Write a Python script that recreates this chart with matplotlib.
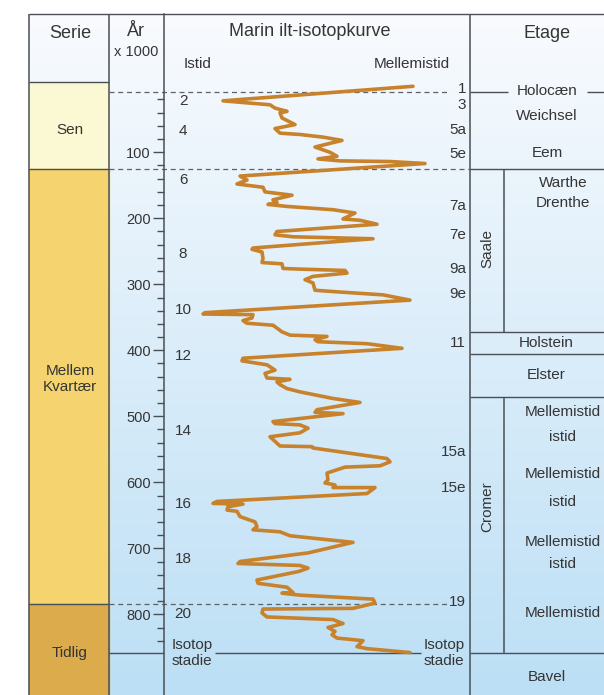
import numpy as np
import matplotlib
matplotlib.use('Agg')
import matplotlib.pyplot as plt
from matplotlib.patches import Rectangle
from matplotlib.colors import LinearSegmentedColormap

plt.rcParams['font.family'] = ['Liberation Sans', 'DejaVu Sans']

# ilt-isotopkurven: alder (x1000 år) og relativ isotopværdi (lav = istid, høj = mellemistid)
alder = [0, 22, 28, 33, 38, 40, 48, 58, 64, 71, 73, 77, 82, 92, 100, 106, 110, 113, 114, 117,
         136, 142, 148, 153, 160, 165, 172, 176, 179, 182, 187, 192, 201, 203, 209, 220, 225, 228, 231,
         245, 247, 251, 261, 267, 269, 276, 277, 279, 283, 288, 293, 298, 309, 311, 316, 324,
         343, 345, 346, 351, 355, 359, 362, 372, 377, 379, 384, 387, 390, 397,
         412, 416, 422, 430, 435, 442, 444, 448, 452, 458, 463, 473, 479, 490, 494, 496,
         508, 511, 513, 518, 525, 531, 545, 546, 548, 556, 564, 569, 575, 577, 586, 596, 601, 604, 608, 608, 617,
         629, 632, 633, 637, 642, 644, 652, 660, 667, 672, 675, 681, 691, 707,
         720, 723, 726, 730, 735, 748, 753, 759, 767, 768, 771, 777, 783, 791, 792, 798, 804, 808, 814,
         820, 826, 831, 836, 840, 849, 852, 858]
isotop = [249, 59, 106, 111, 123, 116, 118, 131, 111, 116, 136, 159, 178, 151, 166, 173, 154, 176, 226, 261,
          76, 83, 73, 99, 101, 128, 109, 113, 104, 123, 169, 191, 179, 196, 213, 113, 111, 129, 209,
          89, 88, 98, 99, 98, 118, 119, 136, 181, 183, 149, 141, 149, 151, 169, 219, 246,
          41, 39, 89, 88, 79, 83, 109, 118, 126, 163, 151, 154, 203, 238,
          79, 78, 103, 111, 101, 103, 126, 113, 116, 123, 136, 169, 196, 153, 151, 179,
          109, 111, 136, 144, 136, 106, 116, 148, 149, 186, 223, 226, 216, 181, 163, 164, 161, 171, 169, 211, 203,
          53, 49, 79, 64, 63, 73, 76, 91, 93, 89, 116, 126, 189, 144,
          76, 74, 136, 144, 135, 93, 94, 123, 129, 118, 136, 209, 211, 189, 99, 98, 103, 169, 179, 164,
          171, 168, 173, 199, 193, 203, 246]

# grænser i x1000 år
holocaen = 8
eem_start = 125
tidlig_start = 784
saale_slut = 372
holstein_slut = 405
elster_slut = 471
bavel_start = 858

serie_navne = ['Sen', 'Mellem\nKvartær', 'Tidlig']
serie_farver = ['#fbf9d4', '#f5d46f', '#dcab4b']

stadier_venstre = ['2', '4', '6', '8', '10', '12', '14', '16', '18', '20']
stadier_hoejre = ['1', '3', '5a', '5e', '7a', '7e', '9a', '9e', '11', '15a', '15e', '19']

W, H = 604, 695
Y0, K = 86.3, 0.66          # pixel for 0 år, pixel pr. 1000 år
TOP, LEFT = 14, 29
X_SERIE, X_AAR, X_KURVE, X_ETAGE, X_SUB = 109, 164, 470, 470, 504
LC = '#4a4f55'
TC = '#353535'


def yp(a):
    return Y0 + K * a


fig = plt.figure(figsize=(W / 100, H / 100), dpi=100)
bg = fig.add_axes([0, 0, 1, 1])
bg.axis('off')

cmap = LinearSegmentedColormap.from_list('bg', ['#f9fbfe', '#bcdff5'])
grad = np.linspace(0, 1, 256)[:, None]
bg.imshow(grad, extent=(LEFT, W, H, TOP), cmap=cmap, aspect='auto', zorder=0)

# serie-kolonnen
graenser = [82, yp(eem_start), yp(tidlig_start), H]
for i, navn in enumerate(serie_navne):
    y0, y1 = graenser[i], graenser[i + 1]
    bg.add_patch(Rectangle((LEFT, y0), X_SERIE - LEFT, y1 - y0, color=serie_farver[i], zorder=1))
bg.text(70, 130, 'Sen', ha='center', va='center', fontsize=11, color=TC)
bg.text(70, 379, 'Mellem\nKvartær', ha='center', va='center', fontsize=11, color=TC, linespacing=1.2)
bg.text(70, 653, 'Tidlig', ha='center', va='center', fontsize=11, color=TC)


def hline(y, x0, x1, **kw):
    bg.plot([x0, x1], [y, y], color=LC, lw=1, zorder=3, solid_capstyle='butt', **kw)


def vline(x, y0, y1):
    bg.plot([x, x], [y0, y1], color=LC, lw=1.1, zorder=3, solid_capstyle='butt')


# ramme og kolonner
hline(TOP, LEFT, W)
vline(LEFT, TOP, H)
vline(X_SERIE, TOP, H)
vline(X_ETAGE, TOP, H)
hline(82, LEFT, X_SERIE)
hline(yp(eem_start), LEFT, X_SERIE)
hline(yp(tidlig_start), LEFT, X_SERIE)

dash = dict(ls=(0, (4, 3)), color='#5d6268', lw=0.9)
bg.plot([X_SERIE, 447], [yp(holocaen)] * 2, zorder=3, **dash)
bg.plot([X_SERIE, X_ETAGE], [yp(eem_start)] * 2, zorder=3, **dash)
bg.plot([X_SERIE, 447], [yp(tidlig_start)] * 2, zorder=3, **dash)

# bundlinje (Bavel)
yb = yp(bavel_start)
hline(yb, X_SERIE, X_AAR)
hline(yb, 215, 421)
hline(yb, X_ETAGE, W)

# etage-kolonnen
hline(yp(holocaen), X_ETAGE, 508)
hline(yp(holocaen), 587, W)
hline(yp(eem_start), X_ETAGE, W)
hline(yp(saale_slut), X_ETAGE, W)
hline(yp(holstein_slut), X_ETAGE, W)
hline(yp(elster_slut), X_ETAGE, W)
vline(X_SUB, yp(eem_start), yp(saale_slut))
vline(X_SUB, yp(elster_slut), yb)

# overskrifter
bg.text(70, 33, 'Serie', ha='center', va='center', fontsize=13, color=TC)
bg.text(136, 31, 'År', ha='center', va='center', fontsize=13, color=TC)
bg.text(136, 52, 'x 1000', ha='center', va='center', fontsize=10.5, color=TC)
bg.text(310, 32, 'Marin ilt-isotopkurve', ha='center', va='center', fontsize=13, color=TC)
bg.text(547, 33, 'Etage', ha='center', va='center', fontsize=13, color=TC)
bg.text(198, 64, 'Istid', ha='center', va='center', fontsize=11, color=TC)
bg.text(412, 64, 'Mellemistid', ha='center', va='center', fontsize=11, color=TC)

# isotopstadier
y_venstre = [101, 131, 180, 254, 310, 356, 431, 504, 559, 614]
for s, y in zip(stadier_venstre, y_venstre):
    bg.text(183, y, s, ha='center', va='center', fontsize=11, color=TC)
y_hoejre = [89, 105, 130, 154, 206, 235, 269, 294, 343, 452, 488, 602]
for s, y in zip(stadier_hoejre, y_hoejre):
    bg.text(466, y, s, ha='right', va='center', fontsize=11, color=TC)
bg.text(192, 653, 'Isotop\nstadie', ha='center', va='center', fontsize=11, color=TC, linespacing=1.25)
bg.text(444, 653, 'Isotop\nstadie', ha='center', va='center', fontsize=11, color=TC, linespacing=1.25)

# etager
etager = [('Holocæn', 547, 91), ('Weichsel', 547, 116), ('Eem', 547, 153),
          ('Warthe', 563, 183), ('Drenthe', 563, 203), ('Holstein', 546, 343),
          ('Elster', 546, 375), ('Mellemistid', 563, 412), ('istid', 563, 437),
          ('Mellemistid', 563, 474), ('istid', 563, 502), ('Mellemistid', 563, 542),
          ('istid', 563, 564), ('Mellemistid', 563, 613), ('Bavel', 547, 677)]
for navn, x, y in etager:
    bg.text(x, y, navn, ha='center', va='center', fontsize=11, color=TC)
bg.text(487, 249, 'Saale', ha='center', va='center', fontsize=11, color=TC, rotation=90)
bg.text(487, 507, 'Cromer', ha='center', va='center', fontsize=11, color=TC, rotation=90)

bg.set_xlim(0, W)
bg.set_ylim(H, 0)

# kurve med aldersakse
ax = fig.add_axes([X_AAR / W, 0, (X_KURVE - X_AAR) / W, 1])
ax.patch.set_alpha(0)
ax.set_xlim(0, X_KURVE - X_AAR)
ax.set_ylim((H - Y0) / K, -Y0 / K)
for side in ['top', 'right', 'bottom']:
    ax.spines[side].set_visible(False)
ax.spines['left'].set_color(LC)
ax.spines['left'].set_linewidth(1.1)
ax.spines['left'].set_bounds((H - Y0) / K, (TOP - Y0) / K)
ax.set_xticks([])
ax.set_yticks(range(100, 900, 100))
ax.set_yticks(range(20, 860, 20), minor=True)
ax.tick_params(which='major', length=8, width=1, color=LC, pad=1.5, labelsize=10.5, labelcolor=TC)
ax.tick_params(which='minor', length=5, width=1, color=LC)
ax.plot(isotop, alder, color='#c8822b', lw=2.6, solid_joinstyle='round', solid_capstyle='round', zorder=5)

fig.savefig('out.png', dpi=100)
